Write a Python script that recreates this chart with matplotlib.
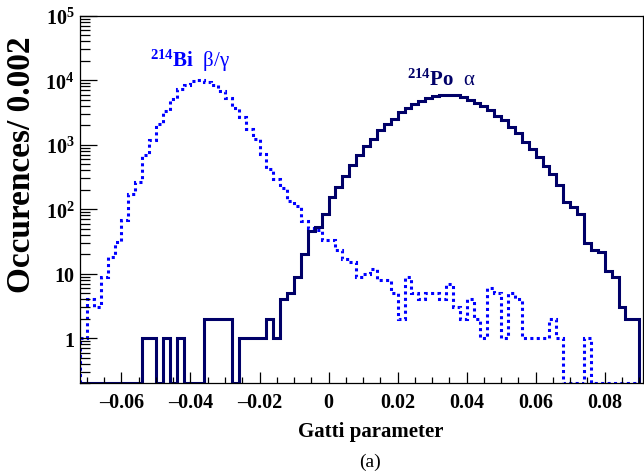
"""Gatti parameter distributions: 214Bi beta/gamma vs 214Po alpha (ROOT-style histogram)."""
import numpy as np
import matplotlib
matplotlib.use("Agg")
import matplotlib.pyplot as plt
from matplotlib.ticker import LogLocator, FixedLocator, MultipleLocator, FuncFormatter, NullFormatter

plt.rcParams['font.family'] = ['Liberation Serif', 'DejaVu Serif']
plt.rcParams['mathtext.fontset'] = 'custom'
plt.rcParams['mathtext.rm'] = 'Liberation Serif'
plt.rcParams['mathtext.bf'] = 'Liberation Serif:bold'
plt.rcParams['mathtext.it'] = 'Liberation Serif:italic'

# histogram binning (width 0.002)
x_first_edge = -0.072
x_last_edge = 0.090

# 214Bi beta/gamma counts per bin
bi_counts = [1, 4, 3, 9, 18, 31, 69, 170, 263, 690,
             1170, 2100, 3300, 5100, 7400, 8500, 9600, 10000, 9400, 8300,
             6900, 5350, 3700, 2650, 1770, 1230, 710, 415, 290, 213,
             135, 113, 66, 51, 48, 33, 33, 23, 17, 15,
             9, 10, 12, 8, 8, 5, 2, 9, 5, 4,
             5, 5, 4, 7, 3, 2, 4, 2, 1, 6,
             5, 1, 5, 4, 1, 1, 1, 1, 2, 1,
             0, 0, 0, 1, 0, 0, 0, 0, 0, 0,
             0]

# 214Po alpha counts per bin
po_counts = [0, 0, 0, 0, 0, 0, 0, 0, 0, 1,
             1, 0, 1, 0, 1, 0, 0, 0, 2, 2,
             2, 2, 0, 1, 1, 1, 1, 2, 1, 4,
             5, 9, 20, 46, 53, 84, 152, 218, 330, 480,
             690, 940, 1240, 1670, 2090, 2540, 3220, 3710, 4340, 4800,
             5350, 5600, 5850, 5950, 5850, 5450, 5000, 4500, 3970, 3400,
             2800, 2430, 1860, 1540, 1090, 870, 650, 465, 355, 240,
             128, 108, 83, 30, 23, 22, 11, 9, 3, 2,
             2]

y_min, y_max = 0.2, 1e5
edges = np.round(np.linspace(x_first_edge, x_last_edge, len(bi_counts) + 1), 4)

# empty bins are drawn on the bottom of the frame, as ROOT does
bi_draw = np.where(np.array(bi_counts) > 0, bi_counts, y_min)
po_draw = np.where(np.array(po_counts) > 0, po_counts, y_min)

fig = plt.figure(figsize=(6.44, 4.77), dpi=100)
ax = fig.add_axes([0.1242, 0.1943, 0.8738, 0.7707])

ax.stairs(bi_draw, edges, baseline=y_min, color='#0000ff', lw=2.2,
          linestyle=(0, (1.0, 1.1)))
ax.stairs(po_draw, edges, baseline=y_min, color='#000068', lw=2.2)

ax.set_yscale('log')
ax.set_xlim(-0.072, 0.091)
ax.set_ylim(y_min, y_max)


def y_fmt(v, pos):
    e = int(round(np.log10(v)))
    if e == 0:
        return '1'
    if e == 1:
        return '10'
    return r'$\mathbf{10^{%d}}$' % e


ax.yaxis.set_major_locator(FixedLocator([1, 10, 100, 1e3, 1e4, 1e5]))
ax.yaxis.set_major_formatter(FuncFormatter(y_fmt))
ax.yaxis.set_minor_locator(LogLocator(base=10, subs=np.arange(2, 10), numticks=20))
ax.yaxis.set_minor_formatter(NullFormatter())
ax.xaxis.set_major_locator(MultipleLocator(0.02))
ax.xaxis.set_minor_locator(MultipleLocator(0.005))
ax.xaxis.set_major_formatter(FuncFormatter(lambda v, pos: '0' if abs(v) < 1e-9 else ('%.2f' % v).replace('-', '\u2013')))

ax.tick_params(which='both', direction='in', top=False, right=False, width=0.9)
ax.tick_params(axis='y', which='major', length=12, pad=4, labelsize=14.5)
ax.tick_params(axis='y', which='minor', length=7)
ax.tick_params(axis='x', which='major', length=8, pad=6, labelsize=14.5)
ax.tick_params(axis='x', which='minor', length=4.5)
for lab in ax.get_xticklabels() + ax.get_yticklabels():
    lab.set_fontweight('bold')
for sp in ax.spines.values():
    sp.set_linewidth(0.9)

ax.text(-0.0517, 16600, r'$^{\mathbf{214}}$Bi  $\mathrm{\beta/\gamma}$', color='#0000ff',
        fontsize=15, fontweight='bold', ha='left', va='baseline')
ax.text(0.0226, 8350, r'$^{\mathbf{214}}$Po  $\mathrm{\alpha}$', color='#000068',
        fontsize=15, fontweight='bold', ha='left', va='baseline')

fig.text(0.034, 0.654, 'Occurences/ 0.002', rotation=90, fontsize=24,
         fontweight='bold', ha='center', va='center')
fig.text(0.575, 1 - 432 / 477, 'Gatti parameter', fontsize=15,
         fontweight='bold', ha='center', va='center')
fig.text(0.575, 1 - 462 / 477, '(a)', fontsize=14, ha='center', va='center')

fig.savefig('out.png', dpi=100)
plt.close(fig)
